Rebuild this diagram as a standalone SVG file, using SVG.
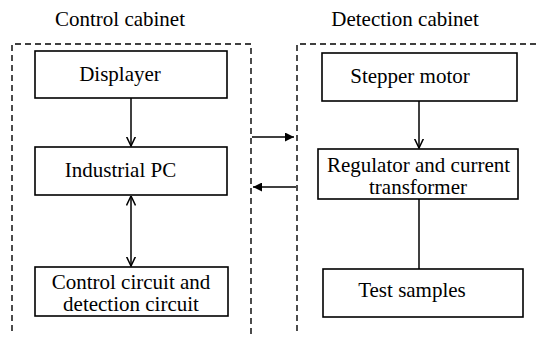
<svg xmlns="http://www.w3.org/2000/svg" width="536" height="338" viewBox="0 0 536 338">
<defs>
<style>
text{font-family:"Liberation Serif","Times New Roman",Times,Tinos,"Noto Serif","DejaVu Serif",FreeSerif,serif;font-size:21px;fill:#000;text-anchor:middle}
.box{fill:#fff;stroke:#000;stroke-width:1.6}
.dash{fill:none;stroke:#000;stroke-width:1.4;stroke-dasharray:6,4}
.ln{fill:none;stroke:#000;stroke-width:1.5}
</style>
<marker id="open" viewBox="0 0 10 10" refX="9.5" refY="5" markerWidth="10" markerHeight="10" markerUnits="userSpaceOnUse" orient="auto-start-reverse">
<path d="M0,0.5 L9.5,5 L0,9.5" fill="none" stroke="#000" stroke-width="1.5"/>
</marker>
<marker id="solid" viewBox="0 0 10 10" refX="10" refY="5" markerWidth="10" markerHeight="9" markerUnits="userSpaceOnUse" orient="auto">
<path d="M0,0 L10,5 L0,10 Z" fill="#000"/>
</marker>
</defs>
<rect width="536" height="338" fill="#fff"/>
<g id="control-cabinet">
<path class="dash" d="M12,331 V44 H251 V338"/>
<text x="120" y="26">Control cabinet</text>
</g>
<g id="detection-cabinet">
<path class="dash" d="M297,331 V44 H536"/>
<text x="405" y="26">Detection cabinet</text>
</g>
<g id="displayer">
<rect class="box" x="35" y="51" width="192" height="47"/>
<text x="120" y="81">Displayer</text>
</g>
<g id="industrial-pc">
<rect class="box" x="35" y="147" width="192" height="48"/>
<text x="120.5" y="177">Industrial PC</text>
</g>
<g id="control-circuit">
<rect class="box" x="35" y="267" width="193" height="49"/>
<text x="131" y="288.5">Control circuit and</text>
<text x="131" y="310.5">detection circuit</text>
</g>
<g id="stepper-motor">
<rect class="box" x="322" y="53" width="195" height="48"/>
<text x="410" y="83">Stepper motor</text>
</g>
<g id="regulator">
<rect class="box" x="318" y="149" width="200" height="50"/>
<text x="418.5" y="172">Regulator and current</text>
<text x="418" y="194">transformer</text>
</g>
<g id="test-samples">
<rect class="box" x="323" y="269" width="200" height="48"/>
<text x="412" y="297">Test samples</text>
</g>
<g id="connectors">
<line class="ln" x1="131" y1="98" x2="131" y2="146" marker-end="url(#open)"/>
<line class="ln" x1="131" y1="196" x2="131" y2="266" marker-start="url(#open)" marker-end="url(#open)"/>
<line class="ln" x1="419" y1="101" x2="419" y2="148" marker-end="url(#open)"/>
<line class="ln" x1="419" y1="199" x2="419" y2="269"/>
<line class="ln" x1="252" y1="137" x2="294" y2="137" marker-end="url(#solid)"/>
<line class="ln" x1="296" y1="187" x2="253" y2="187" marker-end="url(#solid)"/>
</g>
</svg>
